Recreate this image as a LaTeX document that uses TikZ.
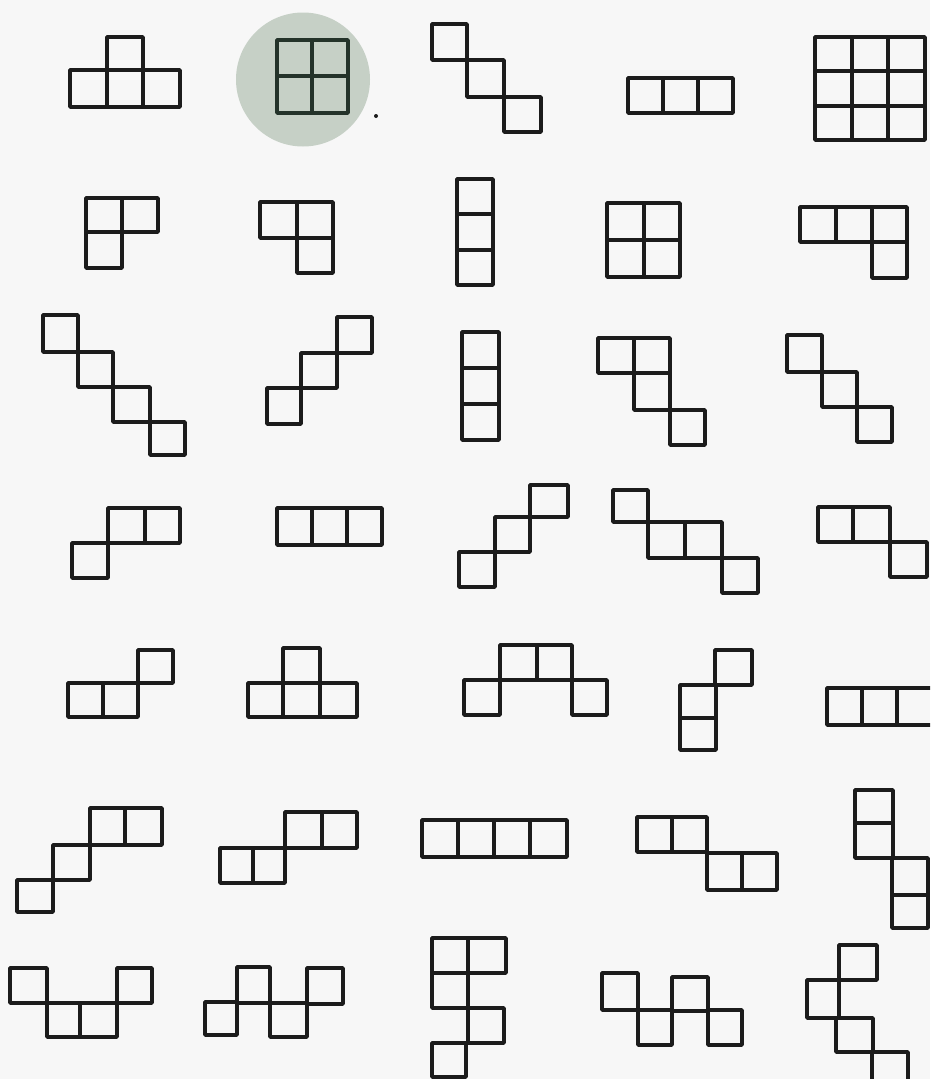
\documentclass[tikz,border=0pt]{standalone}
\definecolor{paper}{HTML}{F7F7F7}
\definecolor{ink}{HTML}{1C1C1C}
\definecolor{disc}{HTML}{C6D0C6}
\definecolor{discink}{HTML}{24332A}
\tikzset{
  tile/.style={draw=ink, line width=3.6pt, line join=round},
  disctile/.style={draw=discink, line width=3.6pt, line join=round},
}
\newcommand{\cellbox}[4]{\draw[tile] (#1,#2) rectangle (#3,#4);}
\begin{document}
\begin{tikzpicture}[x=1pt,y=-1pt]
\useasboundingbox (0,0) rectangle (930,1079);
\fill[paper] (0,0) rectangle (930,1079);
\clip (0,0) rectangle (930,1079);
% Row 1
\cellbox{107}{37}{143}{70}\cellbox{70}{70}{107}{107}\cellbox{107}{70}{143}{107}\cellbox{143}{70}{180}{107}
\fill[disc] (303,79.5) circle (67);
\draw[disctile] (277,40) rectangle (312,76);
\draw[disctile] (312,40) rectangle (348,76);
\draw[disctile] (277,76) rectangle (312,113);
\draw[disctile] (312,76) rectangle (348,113);
\fill[ink] (376,116) circle (2);
\cellbox{432}{24}{467}{60}\cellbox{467}{60}{504}{97}\cellbox{504}{97}{541}{132}
\cellbox{628}{78}{663}{113}\cellbox{663}{78}{698}{113}\cellbox{698}{78}{733}{113}
\cellbox{815}{37}{852}{71}\cellbox{852}{37}{888}{71}\cellbox{888}{37}{925}{71}
\cellbox{815}{71}{852}{106}\cellbox{852}{71}{888}{106}\cellbox{888}{71}{925}{106}
\cellbox{815}{106}{852}{140}\cellbox{852}{106}{888}{140}\cellbox{888}{106}{925}{140}
% Row 2
\cellbox{86}{198}{122}{232}\cellbox{122}{198}{158}{232}\cellbox{86}{232}{122}{268}
\cellbox{260}{202}{297}{238}\cellbox{297}{202}{333}{238}\cellbox{297}{238}{333}{273}
\cellbox{457}{179}{493}{214}\cellbox{457}{214}{493}{250}\cellbox{457}{250}{493}{285}
\cellbox{607}{203}{644}{240}\cellbox{644}{203}{680}{240}\cellbox{607}{240}{644}{277}\cellbox{644}{240}{680}{277}
\cellbox{800}{207}{836}{242}\cellbox{836}{207}{872}{242}\cellbox{872}{207}{907}{242}\cellbox{872}{242}{907}{278}
% Row 3
\cellbox{43}{315}{78}{352}\cellbox{78}{352}{113}{387}\cellbox{113}{387}{150}{422}\cellbox{150}{422}{185}{455}
\cellbox{337}{317}{372}{353}\cellbox{301}{353}{337}{388}\cellbox{267}{388}{301}{424}
\cellbox{462}{332}{499}{368}\cellbox{462}{368}{499}{404}\cellbox{462}{404}{499}{440}
\cellbox{598}{338}{634}{373}\cellbox{634}{338}{670}{373}\cellbox{634}{373}{670}{410}\cellbox{670}{410}{705}{445}
\cellbox{787}{335}{822}{372}\cellbox{822}{372}{857}{407}\cellbox{857}{407}{892}{442}
% Row 4
\cellbox{108}{508}{145}{543}\cellbox{145}{508}{180}{543}\cellbox{72}{543}{108}{578}
\cellbox{277}{508}{312}{545}\cellbox{312}{508}{347}{545}\cellbox{347}{508}{382}{545}
\cellbox{530}{485}{568}{517}\cellbox{495}{517}{530}{552}\cellbox{459}{552}{495}{587}
\cellbox{613}{490}{648}{522}\cellbox{648}{522}{685}{558}\cellbox{685}{522}{722}{558}\cellbox{722}{558}{758}{593}
\cellbox{818}{507}{853}{542}\cellbox{853}{507}{890}{542}\cellbox{890}{542}{927}{577}
% Row 5
\cellbox{68}{683}{103}{717}\cellbox{103}{683}{138}{717}\cellbox{138}{650}{173}{683}
\cellbox{283}{648}{320}{683}\cellbox{248}{683}{283}{717}\cellbox{283}{683}{320}{717}\cellbox{320}{683}{357}{717}
\cellbox{500}{645}{537}{680}\cellbox{537}{645}{572}{680}\cellbox{464}{680}{500}{715}\cellbox{572}{680}{607}{715}
\cellbox{715}{650}{752}{685}\cellbox{680}{685}{716}{718}\cellbox{680}{718}{716}{750}
\cellbox{827}{688}{862}{725}\cellbox{862}{688}{897}{725}\cellbox{897}{688}{934}{725}
% Row 6
\cellbox{90}{808}{125}{845}\cellbox{125}{808}{162}{845}\cellbox{53}{845}{90}{880}\cellbox{17}{880}{53}{912}
\cellbox{285}{812}{322}{848}\cellbox{322}{812}{357}{848}\cellbox{220}{848}{253}{883}\cellbox{253}{848}{285}{883}
\cellbox{422}{820}{458}{857}\cellbox{458}{820}{494}{857}\cellbox{494}{820}{530}{857}\cellbox{530}{820}{567}{857}
\cellbox{637}{817}{672}{852}\cellbox{672}{817}{707}{852}\cellbox{707}{853}{742}{890}\cellbox{742}{853}{777}{890}
\cellbox{855}{790}{893}{823}\cellbox{855}{823}{893}{858}\cellbox{892}{858}{928}{895}\cellbox{892}{895}{928}{928}
% Row 7
\cellbox{10}{968}{47}{1003}\cellbox{47}{1003}{80}{1037}\cellbox{80}{1003}{117}{1037}\cellbox{117}{968}{152}{1003}
\cellbox{205}{1002}{237}{1035}\cellbox{237}{967}{270}{1003}\cellbox{270}{1003}{307}{1037}\cellbox{307}{968}{343}{1004}
\cellbox{432}{938}{468}{973}\cellbox{468}{938}{506}{973}\cellbox{432}{973}{468}{1008}\cellbox{468}{1008}{504}{1043}\cellbox{432}{1043}{466}{1077}
\cellbox{602}{973}{638}{1010}\cellbox{638}{1010}{672}{1045}\cellbox{672}{977}{708}{1011}\cellbox{708}{1010}{742}{1045}
\cellbox{839}{945}{877}{980}\cellbox{807}{980}{839}{1018}\cellbox{836}{1018}{873}{1052}\cellbox{872}{1052}{908}{1090}
\end{tikzpicture}
\end{document}
